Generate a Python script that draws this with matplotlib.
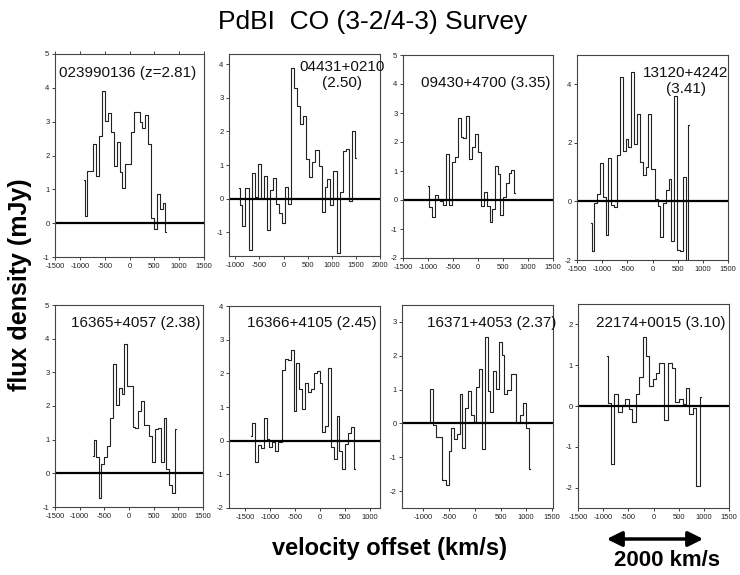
import matplotlib
matplotlib.use("Agg")
import matplotlib.pyplot as plt

plt.rcParams['axes.unicode_minus'] = False
plt.rcParams['font.family'] = ['Liberation Sans', 'DejaVu Sans']

# velocity (km/s) and flux density (mJy) of each spectrum
v1 = [-915, -876, -824, -765, -700, -643, -584, -519, -461, -409, -344, -279, -227, -175, -117,
      -58, 0, 65, 123, 175, 234, 286, 350, 409, 467, 526, 578, 636, 694, 740]
f1 = [1.28, 0.22, 1.55, 1.55, 2.33, 1.40, 2.58, 3.92, 3.02, 3.27, 2.70, 1.70, 2.40, 1.50, 1.03,
      1.75, 1.75, 2.70, 3.30, 3.30, 3.00, 2.80, 3.20, 2.33, 0.15, -0.18, 0.87, 0.43, 0.60, -0.27]

v2 = [-931, -889, -827, -758, -689, -627, -565, -503, -441, -379, -317, -261, -192, -130, -68,
      1, 63, 125, 187, 249, 311, 374, 429, 498, 560, 622, 691, 760, 822, 884,
      939, 1001, 1070, 1139, 1201, 1257, 1326, 1395, 1457, 1505]
f2 = [0.33, -0.2, -0.8, 0.32, -1.52, 0.77, 0.05, 1.02, 0.0, 0.68, -0.93, 0.25, 0.62, -0.15, -0.43,
      -0.72, 0.35, -0.15, 3.88, 3.28, 2.75, 2.23, 2.45, 1.18, 0.66, 1.08, 1.45, 0.98, -0.4, 0.35,
      0.6, -0.18, 0.82, -1.62, 0.2, 1.43, 1.48, -0.07, 2.0, 1.22]

v3 = [-994, -947, -894, -840, -780, -734, -674, -614, -554, -494, -440, -374, -320, -267, -207,
      -147, -93, -40, 20, 80, 140, 200, 260, 313, 360, 420, 474, 527, 587, 640, 694, 740]
f3 = [0.5, -0.25, -0.58, 0.18, 0.05, -0.02, -0.18, 1.6, -0.18, 1.32, 1.48, 2.82, 2.18, 2.15, 2.9,
      1.43, 1.82, 2.28, 1.65, -0.22, 0.26, -0.22, -0.76, -0.32, 1.17, 0.9, -0.52, 0.12, 0.6, 0.92,
      1.03, 0.24]

v4 = [-1227, -1187, -1127, -1080, -1020, -960, -907, -854, -794, -734, -674, -620, -560, -507,
      -454, -394, -334, -274, -220, -160, -107, -53, 13, 73, 127, 187, 240, 293, 347, 407,
      460, 520, 580, 640, 694, 734]
f4 = [-0.75, -1.7, -0.07, 0.25, 1.3, 0.16, -1.13, 1.47, -0.12, -0.2, 1.6, 4.25, 1.72, 2.12,
      1.85, 4.42, 1.97, 2.98, 1.35, 0.9, 1.17, 3.0, 1.12, 0.1, -0.15, -1.2, -0.05, 0.38, 0.75,
      -1.35, 3.6, -1.65, -1.7, 0.82, -2.3, 2.6]

v5 = [-739, -700, -647, -589, -536, -484, -425, -360, -301, -235, -177, -124, -72, -7, 52,
      105, 157, 216, 275, 327, 386, 445, 504, 562, 615, 674, 726, 785, 844, 902, 948]
f5 = [0.52, 1.0, 0.5, -0.72, 0.27, 0.48, 0.82, 1.65, 3.25, 2.02, 2.53, 2.35, 3.85, 2.58, 2.6,
      1.38, 1.35, 1.85, 2.15, 1.45, 1.43, 1.1, 0.35, 1.33, 1.35, 0.35, 1.65, 0.12, -0.35, -0.58,
      1.33]

v6 = [-1379, -1333, -1274, -1214, -1155, -1096, -1043, -983, -931, -878, -805, -733, -673,
      -614, -554, -502, -449, -389, -330, -264, -205, -152, -92, -33, 20, 79, 139, 198, 257,
      304, 356, 416, 469, 528, 587, 640, 700]
f6 = [0.13, 0.52, -0.62, -0.12, -0.22, 0.67, 0.05, -0.2, -0.05, -0.3, -0.05, 2.1, 2.42, 2.4,
      2.7, 0.88, 2.32, 1.52, 0.95, 1.7, 1.45, 1.53, 2.02, 2.08, 1.72, 0.27, 0.43, 2.17, -0.18,
      -0.55, 0.72, -0.3, -0.83, -0.1, 0.22, 0.4, -0.85]

v7 = [-883, -844, -785, -727, -662, -597, -539, -480, -428, -376, -318, -266, -214, -156, -104,
      -52, 6, 58, 110, 169, 221, 273, 331, 383, 435, 493, 545, 597, 655, 753, 857, 915, 967,
      1025, 1064]
f7 = [0.0, 1.02, -0.05, -0.4, -0.4, -1.68, -1.83, -0.82, -0.13, -0.45, -0.3, 0.88, -0.72, 0.47,
      0.97, 0.25, 0.05, 1.08, 1.6, -0.75, 2.55, 0.97, 0.33, 1.55, 1.02, 2.4, 2.03, 0.88, 1.0,
      1.47, 0.0, 0.25, 0.6, -0.15, -1.35]

v8 = [-927, -887, -820, -747, -667, -600, -527, -454, -387, -314, -247, -180, -113, -47, 20,
      73, 160, 260, 333, 400, 467, 540, 614, 680, 747, 814, 887, 947]
f8 = [1.22, 0.07, -1.42, 0.3, -0.15, 0.03, 0.17, -0.07, -0.38, 0.3, 0.72, 1.68, 1.22, 0.48,
      0.65, 0.8, 1.05, -0.35, 1.05, 0.92, 0.1, 0.17, 0.05, 0.43, -0.2, -0.05, -1.97, 0.22]

names = ["023990136 (z=2.81)", "04431+0210\n(2.50)", "09430+4700 (3.35)", "13120+4242\n(3.41)",
         "16365+4057 (2.38)", "16366+4105 (2.45)", "16371+4053 (2.37)", "22174+0015 (3.10)"]
xticks = [-1500, -1000, -500, 0, 500, 1000, 1500]
xticks2 = [-1000, -500, 0, 500, 1000, 1500, 2000]
xticks6 = [-1500, -1000, -500, 0, 500, 1000]
xticks7 = [-1000, -500, 0, 500, 1000, 1500]

W, H = 740, 575
fig = plt.figure(figsize=(W / 100, H / 100), dpi=100)


def px(x, y):
    return x / W, 1 - y / H


# axes boxes in pixels: left, top, right, bottom
boxes = [(55, 54, 204, 257), (229, 54, 380, 256), (403, 55, 553, 258), (577, 55, 728, 260),
         (55, 305, 203, 507), (229, 306, 380, 508), (402, 305, 553, 508), (578, 304, 729, 508)]
xlims = [(-1500, 1500), (-1130, 2000), (-1500, 1500), (-1500, 1500),
         (-1500, 1500), (-1820, 1200), (-1415, 1520), (-1500, 1500)]
ylims = [(-1, 5), (-1.7, 4.3), (-2, 5), (-2, 5), (-1, 5), (-2, 4), (-2.5, 3.5), (-2.5, 2.5)]
yticks = [range(-1, 6), range(-1, 5), range(-2, 6), [-2, 0, 2, 4],
          range(-1, 6), range(-2, 5), range(-2, 4), range(-2, 3)]
xtick_sets = [xticks, xticks2, xticks, xticks, xticks, xticks6, xticks7, xticks]
label_pos = [(128, 73), (342, 75), (486, 83), (686, 81), (136, 323), (312, 323), (492, 323), (661, 323)]

vels = [v1, v2, v3, v4, v5, v6, v7, v8]
fluxes = [f1, f2, f3, f4, f5, f6, f7, f8]

for i in range(8):
    l, t, r, b = boxes[i]
    ax = fig.add_axes([l / W, 1 - b / H, (r - l) / W, (b - t) / H])
    ax.plot(vels[i], fluxes[i], drawstyle='steps-mid', color='#222222', lw=0.8)
    ax.axhline(0, color='black', lw=1.6)
    ax.set_xlim(*xlims[i])
    ax.set_ylim(*ylims[i])
    ax.set_xticks(xtick_sets[i])
    ax.set_yticks(list(yticks[i]))
    ax.tick_params(labelsize=5.5, length=2.5, width=0.6, pad=1.5, colors='#222222')
    if i == 0:
        ax.tick_params(axis='x', top=True)
    for s in ax.spines.values():
        s.set_linewidth(0.8)
        s.set_color('#444444')
    x, y = px(*label_pos[i])
    fig.text(x, y, names[i], ha='center', va='center', fontsize=11,
             linespacing=1.1, color='#111111')

fig.text(*px(373, 22), "PdBI  CO (3-2/4-3) Survey", ha='center', va='center', fontsize=19)
fig.text(*px(20, 285), "flux density (mJy)", rotation=90, ha='center', va='center',
         fontsize=18, fontweight='bold')
fig.text(*px(390, 548), "velocity offset (km/s)", ha='center', va='center',
         fontsize=17, fontweight='bold')
fig.text(*px(667, 561), "2000 km/s", ha='center', va='center', fontsize=16, fontweight='bold')
fig.add_artist(matplotlib.patches.FancyArrowPatch(
    px(604, 539), px(706, 539), transform=fig.transFigure,
    arrowstyle='<|-|>,head_length=9,head_width=4.5', lw=2.5, color='black'))

fig.savefig('out.png', dpi=100)
